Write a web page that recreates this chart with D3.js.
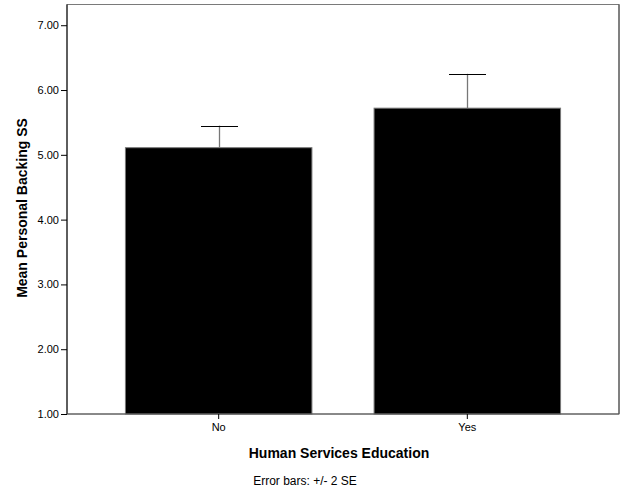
<!DOCTYPE html>
<html><head><meta charset="utf-8">
<script src="https://cdn.jsdelivr.net/npm/d3@7"></script>
<style>body{margin:0;background:#fff}svg{display:block}text{font-family:"Liberation Sans",Arial,sans-serif}</style>
</head><body><svg id="c" width="626" height="501"></svg>
<script>
const categories = ["No", "Yes"];
const means = [5.11, 5.72];
const errLow = [4.77, 5.19];
const errHigh = [5.45, 6.25];
const yTicks = [1, 2, 3, 4, 5, 6, 7];

const svg = d3.select("#c");
const L = 67, R = 619, T = 4.5, B = 414;
const y = d3.scaleLinear().domain([1, 7.32]).range([B, T]);
const x = d3.scaleBand().domain(categories).range([L, R]).paddingInner(0.25).paddingOuter(0.235);

// frame
svg.append("rect").attr("x", L).attr("y", T).attr("width", R - L).attr("height", B - T)
  .attr("fill", "#fff").attr("stroke", "#7a7a7a").attr("stroke-width", 1);
svg.append("line").attr("x1", R).attr("x2", R).attr("y1", T).attr("y2", B).attr("stroke", "#444");

// bars
svg.selectAll("rect.bar").data(categories).enter().append("rect").attr("class", "bar")
  .attr("x", d => x(d)).attr("width", x.bandwidth())
  .attr("y", (d, i) => y(means[i])).attr("height", (d, i) => B - y(means[i]))
  .attr("fill", "#000").attr("stroke", "#777").attr("stroke-width", 1);

// error bars
const capW = 37;
categories.forEach((c, i) => {
  const cx = Math.round(x(c) + x.bandwidth() / 2) + 0.5;
  svg.append("line").attr("x1", cx).attr("x2", cx).attr("y1", y(errHigh[i])).attr("y2", y(means[i]))
    .attr("stroke", "#777").attr("stroke-width", 1.3);
  svg.append("line").attr("x1", cx - capW / 2).attr("x2", cx + capW / 2)
    .attr("y1", Math.round(y(errHigh[i])) + 0.5).attr("y2", Math.round(y(errHigh[i])) + 0.5)
    .attr("stroke", "#000").attr("stroke-width", 1);
});

// y axis
const ya = svg.append("g").attr("transform", `translate(${L},0)`)
  .call(d3.axisLeft(y).tickValues(yTicks).tickFormat(d3.format(".2f")).tickSize(6).tickPadding(2));
ya.select(".domain").attr("stroke", "#000").attr("d", `M0,${T}V${B}`);
ya.selectAll("line").attr("stroke", "#000");
ya.selectAll("text").attr("font-size", 11).attr("fill", "#000").style("font-family", "'Liberation Sans',Arial,sans-serif");

// x axis
const xa = svg.append("g").attr("transform", `translate(0,${B})`)
  .call(d3.axisBottom(x).tickSize(5).tickPadding(4));
xa.select(".domain").attr("stroke", "#555").attr("d", `M${L},0H${R}`);
xa.selectAll("line").attr("stroke", "#000");
xa.selectAll("text").attr("font-size", 11).attr("fill", "#000").style("font-family", "'Liberation Sans',Arial,sans-serif");

// titles
svg.append("text").attr("x", 339).attr("y", 458).attr("text-anchor", "middle")
  .attr("font-size", 14).attr("font-weight", "bold").text("Human Services Education");
svg.append("text").attr("transform", "translate(27,208) rotate(-90)").attr("text-anchor", "middle")
  .attr("font-size", 14).attr("font-weight", "bold").text("Mean Personal Backing SS");
svg.append("text").attr("x", 305).attr("y", 485).attr("text-anchor", "middle")
  .attr("font-size", 12).text("Error bars: +/- 2 SE");
</script></body></html>
